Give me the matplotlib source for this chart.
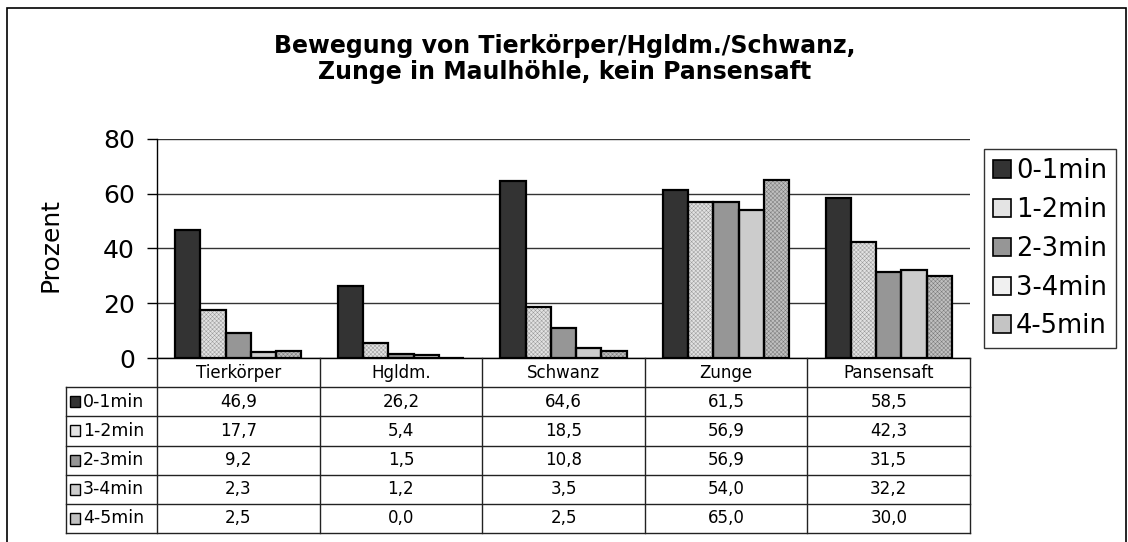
import matplotlib
matplotlib.use("Agg")
import matplotlib.pyplot as plt
from matplotlib.patches import Rectangle, Patch

# data
categories = ["Tierkörper", "Hgldm.", "Schwanz", "Zunge", "Pansensaft"]
series_names = ["0-1min", "1-2min", "2-3min", "3-4min", "4-5min"]
min_0_1 = [46.9, 26.2, 64.6, 61.5, 58.5]
min_1_2 = [17.7, 5.4, 18.5, 56.9, 42.3]
min_2_3 = [9.2, 1.5, 10.8, 56.9, 31.5]
min_3_4 = [2.3, 1.2, 3.5, 54.0, 32.2]
min_4_5 = [2.5, 0.0, 2.5, 65.0, 30.0]
series = [min_0_1, min_1_2, min_2_3, min_3_4, min_4_5]
yticks = [0, 20, 40, 60, 80]

# look: (facecolor, hatch, hatch colour)
styles = [("#333333", None, None),
          ("#e2e2e2", "xxxxxxxx", "#9a9a9a"),
          ("#969696", None, None),
          ("#cccccc", None, None),
          ("#c0c0c0", "xxxxxxxx", "#7a7a7a")]
legend_faces = ["#333333", "#e4e4e4", "#969696", "#f0f0f0", "#c4c4c4"]

W, H = 1128, 542
plt.rcParams["font.family"] = "DejaVu Sans"
plt.rcParams["hatch.linewidth"] = 0.35

fig = plt.figure(figsize=(W / 100, H / 100), dpi=100)


def fx(px):
    return px / W


def fy(py):
    return 1 - py / H


# outer chart border
fig.patches.append(Rectangle((fx(7), fy(560)), fx(1126) - fx(7), fy(8) - fy(560),
                             transform=fig.transFigure, fill=False,
                             edgecolor="black", linewidth=1.2))

fig.text(fx(565), fy(59), "Bewegung von Tierkörper/Hgldm./Schwanz,\nZunge in Maulhöhle, kein Pansensaft",
         ha="center", va="center", fontsize=17, fontweight="bold", linespacing=1.15)

ax = fig.add_axes([fx(157), fy(358), fx(970) - fx(157), fy(139) - fy(358)])
n = len(categories)
bw = 0.155
for i, vals in enumerate(series):
    face, hatch, hcol = styles[i]
    xs = [k + (i - 2) * bw for k in range(n)]
    if hatch:
        ax.bar(xs, vals, bw, color=face, edgecolor=hcol, hatch=hatch,
               linewidth=0, zorder=3)
    else:
        ax.bar(xs, vals, bw, color=face, linewidth=0, zorder=3)
    ax.bar(xs, vals, bw, fill=False, edgecolor="black", linewidth=1.6, zorder=4)

ax.set_xlim(-0.5, n - 0.5)
ax.set_ylim(0, 80)
ax.set_yticks(yticks)
ax.set_yticklabels([str(t) for t in yticks], fontsize=18)
ax.tick_params(axis="y", length=7, width=1, pad=9)
ax.set_xticks([])
ax.grid(axis="y", color="#333333", linewidth=1, zorder=0)
ax.set_axisbelow(True)
for s in ["top", "right"]:
    ax.spines[s].set_visible(False)
ax.spines["left"].set_linewidth(1)
ax.spines["bottom"].set_linewidth(1)

fig.text(fx(50), fy(245), "Prozent", rotation=90, ha="center", va="center", fontsize=18)

# legend
handles = []
for i, name in enumerate(series_names):
    handles.append(Patch(facecolor=legend_faces[i], edgecolor="black",
                         linewidth=1.2, label=name))
leg = fig.legend(handles=handles, loc="upper left",
                 bbox_to_anchor=(fx(984), fy(149)), fontsize=18.5,
                 frameon=True, fancybox=False, edgecolor="black",
                 handlelength=0.7, handleheight=0.7, handletextpad=0.2,
                 labelspacing=0.5, borderpad=0.35, borderaxespad=0)
leg.get_frame().set_linewidth(1)

# data table under the chart
tax = fig.add_axes([fx(66), fy(533), fx(970) - fx(66), fy(358) - fy(533)])
unit = (970 - 157) / n
lab_w = 91 / unit
x0 = -0.5 - lab_w
tax.set_xlim(x0, n - 0.5)
tax.set_ylim(6, 0)
tax.axis("off")
lc = "#222222"
for r in range(1, 7):
    tax.plot([x0, n - 0.5], [r, r], color=lc, linewidth=1, clip_on=False)
tax.plot([x0, x0], [1, 6], color=lc, linewidth=1, clip_on=False)
for c in range(n + 1):
    tax.plot([c - 0.5, c - 0.5], [0, 6], color=lc, linewidth=1, clip_on=False)

for k, cat in enumerate(categories):
    tax.text(k, 0.5, cat, ha="center", va="center", fontsize=12)
for i, vals in enumerate(series):
    for k, v in enumerate(vals):
        tax.text(k, i + 1.5, f"{v:.1f}".replace(".", ","), ha="center",
                 va="center", fontsize=12)
    # small colour key before the row label
    face, hatch, hcol = styles[i]
    tax.add_patch(Rectangle((x0 + 3.5 / unit, i + 1.5 - 0.19), 10.5 / unit, 0.38,
                            facecolor=face, edgecolor="black", linewidth=1,
                            clip_on=False))
    tax.text(x0 + 17 / unit, i + 1.5, series_names[i], ha="left",
             va="center", fontsize=12.5)

fig.savefig("out.png", dpi=100)
